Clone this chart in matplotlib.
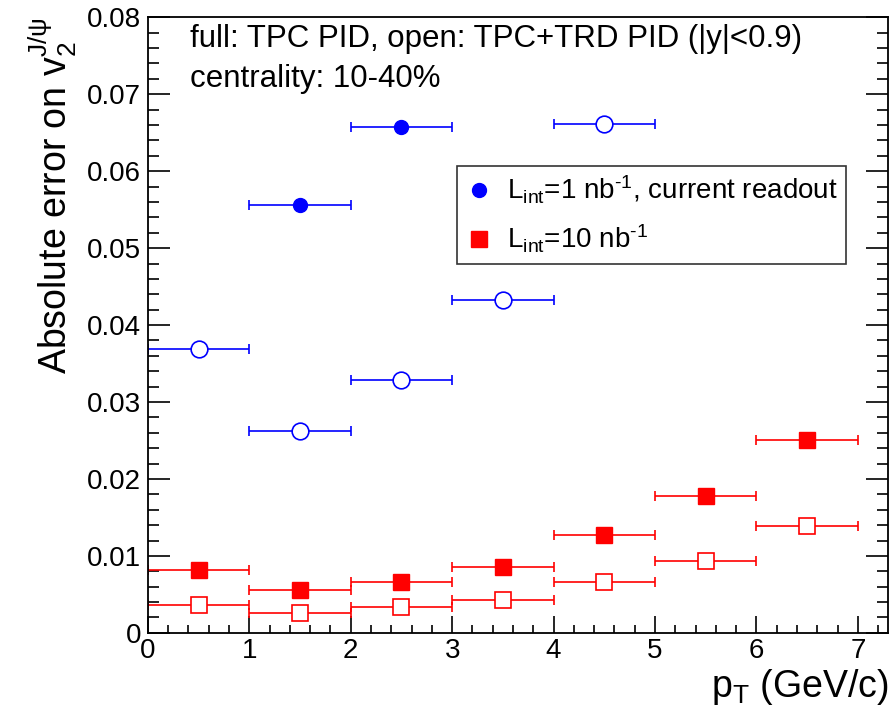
import numpy as np
from matplotlib import pyplot as plt
from matplotlib.ticker import MultipleLocator, FuncFormatter

plt.rcParams['font.family'] = ['Liberation Sans', 'DejaVu Sans']
plt.rcParams['mathtext.fontset'] = 'custom'
plt.rcParams['mathtext.rm'] = 'Liberation Sans'
plt.rcParams['mathtext.it'] = 'Liberation Sans'

# bin centres and half widths (GeV/c)
pt_blue_full = [1.5, 2.5]
v2err_blue_full = [0.0556, 0.0658]
pt_blue_open = [0.5, 1.5, 2.5, 3.5, 4.5]
v2err_blue_open = [0.0369, 0.0262, 0.0329, 0.0432, 0.0661]
pt_red = [0.5, 1.5, 2.5, 3.5, 4.5, 5.5, 6.5]
v2err_red_full = [0.0082, 0.0056, 0.0066, 0.0086, 0.0127, 0.0178, 0.0251]
v2err_red_open = [0.0036, 0.0026, 0.0033, 0.0043, 0.0066, 0.0094, 0.0139]
halfwidth = 0.5

fig = plt.figure(figsize=(8.91, 7.2), dpi=100)
ax = fig.add_axes([0.166, 0.121, 0.831, 0.855])

blue = '#0000ff'
red = '#ff0000'
ebkw = dict(ls='none', elinewidth=1.2, capsize=3.5, capthick=1.2)

ax.errorbar(pt_blue_open, v2err_blue_open, xerr=halfwidth, color=blue, marker='o', ms=12,
            mfc='white', mec=blue, mew=1.2, **ebkw)
ax.errorbar(pt_blue_full, v2err_blue_full, xerr=halfwidth, color=blue, marker='o', ms=10,
            mfc=blue, mec=blue, **ebkw)
ax.errorbar(pt_red, v2err_red_open, xerr=halfwidth, color=red, marker='s', ms=12,
            mfc='white', mec=red, mew=1.2, **ebkw)
ax.errorbar(pt_red, v2err_red_full, xerr=halfwidth, color=red, marker='s', ms=11.5,
            mfc=red, mec=red, **ebkw)

# legend handles: markers only
h1, = ax.plot([], [], ls='none', marker='o', ms=10, color=blue)
h2, = ax.plot([], [], ls='none', marker='s', ms=11, color=red)
leg = ax.legend([h1, h2],
                [r'L$_{\mathregular{int}}$=1 nb$^{\text{-1}}$, current readout',
                 r'L$_{\mathregular{int}}$=10 nb$^{\text{-1}}$'],
                loc='upper left', bbox_to_anchor=(0.4176, 0.759), borderaxespad=0,
                fontsize=20, frameon=True, fancybox=False, edgecolor='black',
                handletextpad=0.5, borderpad=0.3, labelspacing=0.6, handlelength=1.0)
leg.get_frame().set_linewidth(1.2)

ax.text(0.057, 0.951, 'full: TPC PID, open: TPC+TRD PID (|y|<0.9)', transform=ax.transAxes,
        fontsize=22.5, va='baseline', ha='left')
ax.text(0.057, 0.886, 'centrality: 10-40%', transform=ax.transAxes,
        fontsize=22.5, va='baseline', ha='left')

ax.set_xlim(0, 7.3)
ax.set_ylim(0, 0.08)
ax.xaxis.set_major_locator(MultipleLocator(1))
ax.xaxis.set_minor_locator(MultipleLocator(0.2))
ax.yaxis.set_major_locator(MultipleLocator(0.01))
ax.yaxis.set_minor_locator(MultipleLocator(0.002))
ax.yaxis.set_major_formatter(FuncFormatter(lambda v, p: '0' if abs(v) < 1e-9 else '%.2f' % v))
ax.tick_params(axis='both', which='both', direction='in', right=True, top=False,
               labelsize=20, width=1.2)
ax.tick_params(axis='y', which='major', length=16, pad=5)
ax.tick_params(axis='y', which='minor', length=8)
ax.tick_params(axis='x', which='major', length=12, pad=4)
ax.tick_params(axis='x', which='minor', length=6)
for s in ax.spines.values():
    s.set_linewidth(1.3)

ax.set_ylabel(r'Absolute error on $\mathregular{v}_{\mathregular{2}}^{\mathregular{J/\psi}}$',
              fontsize=27, loc='top', labelpad=6)
ax.set_xlabel(r'p$_{\mathregular{T}}$ (GeV/c)', fontsize=27, loc='right', labelpad=2)

fig.savefig('out.png', dpi=100)
